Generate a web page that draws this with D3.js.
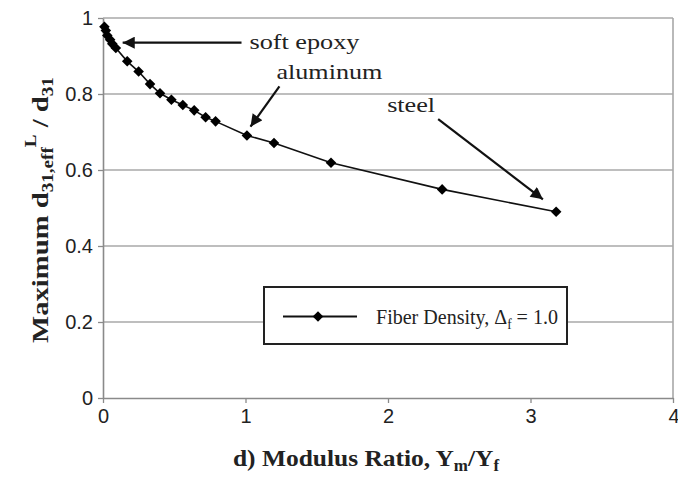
<!DOCTYPE html>
<html>
<head>
<meta charset="utf-8">
<script src="https://cdn.jsdelivr.net/npm/d3@7"></script>
<style>
  body { margin: 0; background: #fff; }
</style>
</head>
<body>
<div id="chart"></div>
<script>
// modulus ratio Ym/Yf and max d31,eff^L / d31 (fiber density 1.0)
var ratio = [0.01, 0.02, 0.03, 0.05, 0.065, 0.09, 0.17, 0.25, 0.33, 0.40,
  0.48, 0.56, 0.64, 0.72, 0.79, 1.01, 1.2, 1.6, 2.38, 3.18];
var dMax = [0.977, 0.967, 0.954, 0.943, 0.932, 0.921, 0.886, 0.859, 0.826, 0.802,
  0.785, 0.771, 0.757, 0.739, 0.728, 0.691, 0.671, 0.619, 0.549, 0.490];
var xTicks = [0, 1, 2, 3, 4];
var yTicks = [0, 0.2, 0.4, 0.6, 0.8, 1];
var notes = ["soft epoxy", "aluminum", "steel"];
var legendLabel = "Fiber Density, ";

var margin = { top: 18, right: 5, bottom: 93, left: 103 },
  W = 678, H = 491,
  width = W - margin.left - margin.right,
  height = H - margin.top - margin.bottom;

var svg = d3.select("#chart").append("svg")
  .attr("width", W).attr("height", H);

var g = svg.append("g")
  .attr("transform", "translate(" + margin.left + "," + margin.top + ")");

var x = d3.scaleLinear().domain([0, 4]).range([0, width]);
var y = d3.scaleLinear().domain([0, 1]).range([height, 0]);

// gridlines + frame
g.selectAll(".grid").data(yTicks.slice(1)).enter().append("line")
  .attr("x1", 0).attr("x2", width)
  .attr("y1", function (d) { return y(d); })
  .attr("y2", function (d) { return y(d); })
  .attr("stroke", "#a8a8a8").attr("stroke-width", 1.6);
g.append("line").attr("x1", width).attr("x2", width).attr("y1", 0).attr("y2", height)
  .attr("stroke", "#a8a8a8").attr("stroke-width", 1.6);

var xAxis = g.append("g")
  .attr("transform", "translate(0," + height + ")")
  .call(d3.axisBottom(x).tickValues(xTicks).tickSize(5).tickSizeOuter(0).tickPadding(6)
    .tickFormat(d3.format("d")));
var yAxis = g.append("g")
  .call(d3.axisLeft(y).tickValues(yTicks).tickSize(5).tickSizeOuter(0).tickPadding(5)
    .tickFormat(function (d) { return d === 0 || d === 1 ? d : d.toFixed(1); }));

[xAxis, yAxis].forEach(function (a) {
  a.select(".domain").attr("stroke", "#8a8a8a").attr("stroke-width", 1.6);
  a.selectAll(".tick line").attr("stroke", "#8a8a8a").attr("stroke-width", 1.3);
  a.selectAll("text").attr("font-family", "Liberation Sans, Arial, sans-serif")
    .attr("font-size", 20).attr("fill", "#222");
});
// last x label sits at the right edge
xAxis.selectAll(".tick text").filter(function (d) { return d === 4; })
  .attr("text-anchor", "end").attr("dx", 6);

// data line + diamonds
var pts = ratio.map(function (r, i) { return [r, dMax[i]]; });
var line = d3.line().x(function (d) { return x(d[0]); }).y(function (d) { return y(d[1]); });
g.append("path").datum(pts).attr("d", line)
  .attr("fill", "none").attr("stroke", "#111").attr("stroke-width", 1.6);

var diamond = d3.symbol().type(d3.symbolSquare).size(56);
g.selectAll(".pt").data(pts).enter().append("path")
  .attr("d", diamond)
  .attr("transform", function (d) { return "translate(" + x(d[0]) + "," + y(d[1]) + ") rotate(45)"; })
  .attr("fill", "#000");

// stretch serif text horizontally to a target width
function fit(sel, w) {
  var bw = sel.node().getBBox().width;
  return bw > 0 ? w / bw : 1;
}

// annotations with arrows (positions in data units)
var noteAt = [[1.028, 0.919], [1.217, 0.839], [1.994, 0.753]];
var arrowFrom = [[0.972, 0.935], [1.238, 0.82], [2.352, 0.734]];
var arrowTo = [[0.138, 0.935], [1.035, 0.714], [3.087, 0.523]];
var noteW = [110, 106, 48];

svg.append("defs").append("marker")
  .attr("id", "head").attr("viewBox", "0 0 10 10")
  .attr("refX", 10).attr("refY", 5)
  .attr("markerWidth", 6).attr("markerHeight", 5.5)
  .attr("markerUnits", "strokeWidth")
  .attr("orient", "auto")
  .append("path").attr("d", "M0,0 L10,5 L0,10 Z").attr("fill", "#111");

notes.forEach(function (n, i) {
  g.append("line")
    .attr("x1", x(arrowFrom[i][0])).attr("y1", y(arrowFrom[i][1]))
    .attr("x2", x(arrowTo[i][0])).attr("y2", y(arrowTo[i][1]))
    .attr("stroke", "#111").attr("stroke-width", 2.2)
    .attr("marker-end", "url(#head)");
  var ng = g.append("g")
    .attr("transform", "translate(" + x(noteAt[i][0]) + "," + y(noteAt[i][1]) + ")");
  var t = ng.append("text").text(n)
    .attr("font-family", "Liberation Serif, Times New Roman, serif")
    .attr("font-size", 22).attr("fill", "#222");
  t.attr("transform", "scale(" + fit(t, noteW[i]) + ",1)");
});

// legend
var lg = svg.append("g").attr("transform", "translate(264,287)");
lg.append("rect").attr("width", 303).attr("height", 57)
  .attr("fill", "#fff").attr("stroke", "#222").attr("stroke-width", 2);
lg.append("line").attr("x1", 19).attr("x2", 93).attr("y1", 29.5).attr("y2", 29.5)
  .attr("stroke", "#111").attr("stroke-width", 1.8);
lg.append("path").attr("d", diamond)
  .attr("transform", "translate(54,29.5) rotate(45)").attr("fill", "#000");
var lt = lg.append("text")
  .attr("font-family", "Liberation Serif, Times New Roman, serif")
  .attr("font-size", 21).attr("fill", "#222");
lt.append("tspan").text(legendLabel + "\u0394");
lt.append("tspan").text("f").attr("font-size", 14).attr("dy", 5);
lt.append("tspan").text(" = 1.0").attr("dy", -5);
lt.attr("transform", "translate(112,37) scale(" + fit(lt, 182) + ",1)");

// axis titles
var serifB = "Liberation Serif, Times New Roman, serif";
var xt = svg.append("text").attr("text-anchor", "middle")
  .attr("font-family", serifB).attr("font-weight", "bold").attr("font-size", 24).attr("fill", "#222");
xt.append("tspan").text("d) Modulus Ratio, Y");
xt.append("tspan").text("m").attr("font-size", 16).attr("dy", 5);
xt.append("tspan").text("/Y").attr("dy", -5);
xt.append("tspan").text("f").attr("font-size", 16).attr("dy", 5);
xt.attr("transform", "translate(366,466) scale(" + fit(xt, 267) + ",1)");

var yt = svg.append("text").attr("text-anchor", "middle")
  .attr("font-family", serifB).attr("font-weight", "bold").attr("font-size", 24).attr("fill", "#222");
yt.append("tspan").text("Maximum d");
yt.append("tspan").text("31,eff").attr("font-size", 16).attr("dy", 5);
yt.append("tspan").text("L").attr("font-size", 16).attr("dy", -17);
yt.append("tspan").text(" / d").attr("dy", 12);
yt.append("tspan").text("31").attr("font-size", 16).attr("dy", 5);
yt.attr("transform", "translate(48,210) rotate(-90) scale(" + fit(yt, 266) + ",1)");
</script>
</body>
</html>
